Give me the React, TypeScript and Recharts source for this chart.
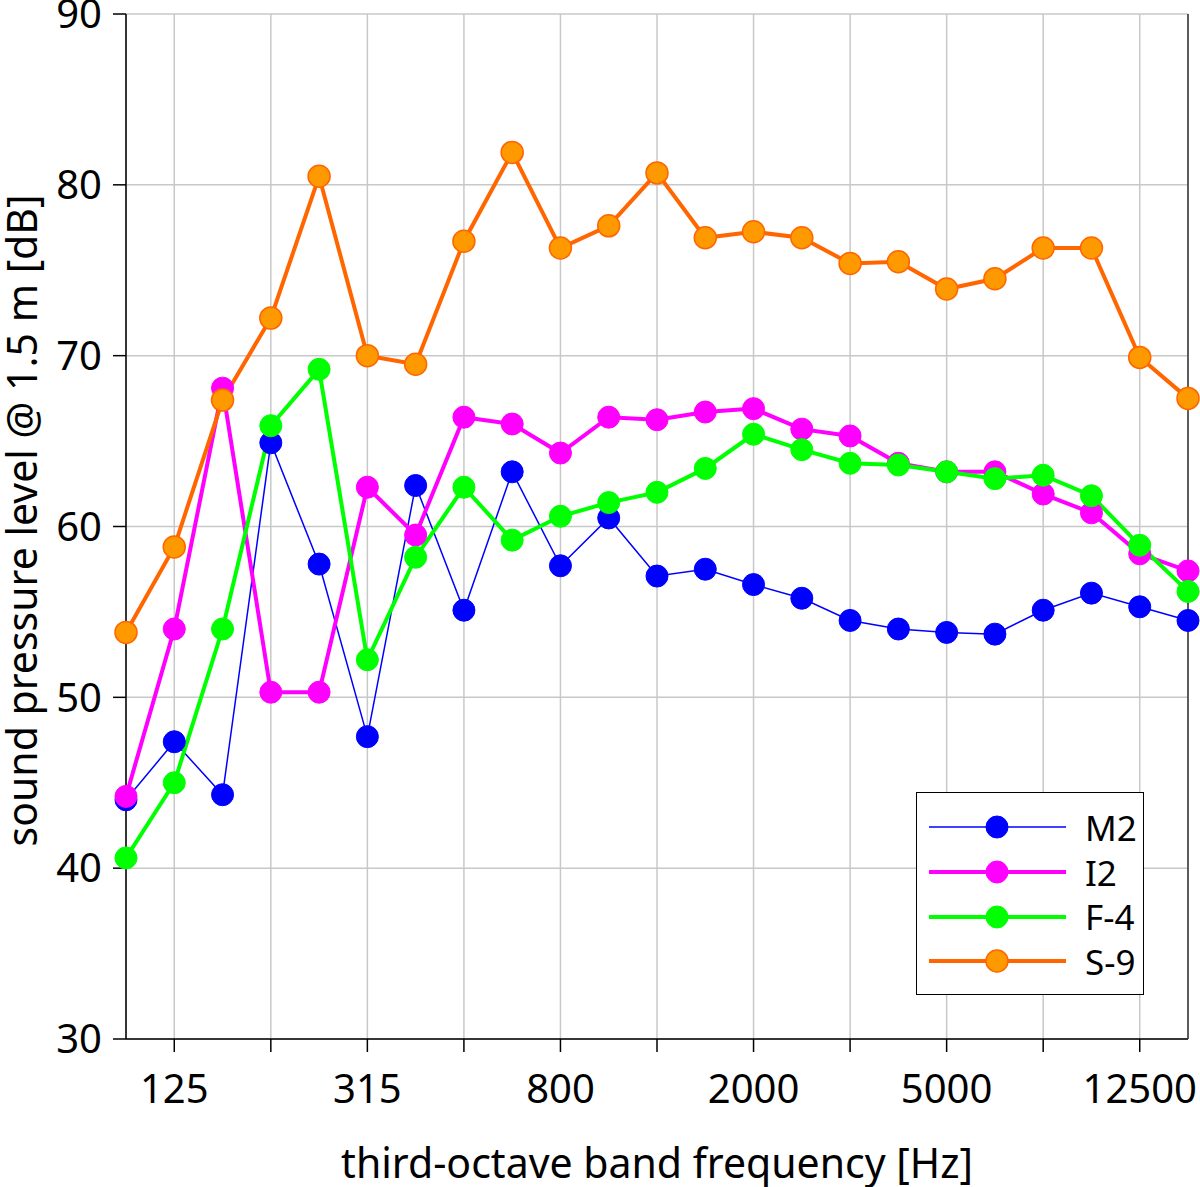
import { CartesianGrid, Label, Legend, Line, LineChart, XAxis, YAxis } from "recharts";

// third-octave bands, Hz
const bands = [
  "100", "125", "160", "200", "250", "315", "400", "500", "630", "800", "1000", "1250",
  "1600", "2000", "2500", "3150", "4000", "5000", "6300", "8000", "10000", "12500", "16000",
];

// sound pressure level @ 1.5 m, dB
const m2 = [44.0, 47.4, 44.3, 64.9, 57.8, 47.7, 62.4, 55.1, 63.2, 57.7, 60.5, 57.1, 57.5, 56.6, 55.8, 54.5, 54.0, 53.8, 53.7, 55.1, 56.1, 55.3, 54.5];
const i2 = [44.2, 54.0, 68.1, 50.3, 50.3, 62.3, 59.5, 66.4, 66.0, 64.3, 66.4, 66.25, 66.7, 66.9, 65.7, 65.3, 63.7, 63.2, 63.2, 61.9, 60.8, 58.4, 57.4];
const f4 = [40.6, 45.0, 54.0, 65.9, 69.2, 52.2, 58.2, 62.3, 59.2, 60.6, 61.4, 62.0, 63.4, 65.4, 64.5, 63.7, 63.6, 63.2, 62.8, 63.0, 61.8, 58.9, 56.2];
const s9 = [53.8, 58.8, 67.4, 72.2, 80.5, 70.0, 69.5, 76.7, 81.9, 76.3, 77.6, 80.7, 76.9, 77.25, 76.9, 75.4, 75.5, 73.9, 74.5, 76.3, 76.3, 69.9, 67.5];

const tickBands = ["125", "200", "315", "500", "800", "1250", "2000", "3150", "5000", "8000", "12500"];
const labelBands = ["125", "315", "800", "2000", "5000", "12500"];
const yTicks = [30, 40, 50, 60, 70, 80, 90];

const data = bands.map((band, i) => ({ band, m2: m2[i], i2: i2[i], f4: f4[i], s9: s9[i] }));

const series = [
  { key: "m2", name: "M2", stroke: "#0000ff", fill: "#0000ff", width: 1.5, dotStroke: 1 },
  { key: "i2", name: "I2", stroke: "#ff00ff", fill: "#ff00ff", width: 4, dotStroke: 1 },
  { key: "f4", name: "F-4", stroke: "#00ff00", fill: "#00ff00", width: 4, dotStroke: 1 },
  { key: "s9", name: "S-9", stroke: "#ff6600", fill: "#ff9900", width: 4, dotStroke: 1.5 },
];

const FONT = "'Noto Sans', 'Open Sans', sans-serif";

function LegendBox() {
  return (
    <div
      style={{
        width: 226,
        border: "1.5px solid #000",
        background: "#fff",
        padding: "12px 0 10px 0",
        fontFamily: FONT,
        fontSize: 35,
        color: "#000",
      }}
    >
      {series.map((s) => (
        <div key={s.key} style={{ display: "flex", alignItems: "center", height: 44.7 }}>
          <svg width={168} height={44} style={{ flex: "none" }}>
            <line x1={12} x2={149} y1={22} y2={22} stroke={s.stroke} strokeWidth={s.width} />
            <circle cx={80} cy={22} r={11} fill={s.fill} stroke={s.stroke} strokeWidth={s.dotStroke} />
          </svg>
          <span style={{ lineHeight: 1 }}>{s.name}</span>
        </div>
      ))}
    </div>
  );
}

export default function App() {
  return (
    <div style={{ position: "absolute", left: 0, top: 0, width: 1200, height: 1187, background: "#fff", fontFamily: FONT }}>
      <LineChart width={1200} height={1187} data={data} margin={{ top: 14, right: 0, bottom: 0, left: 0 }}>
        <CartesianGrid stroke="#c8c8c8" strokeWidth={1.5} />
        <XAxis
          dataKey="band"
          type="category"
          scale="point"
          padding={{ left: 0, right: 0 }}
          ticks={tickBands}
          interval={0}
          tickFormatter={(v) => (labelBands.includes(v) ? v : "")}
          height={148}
          tickSize={13}
          tickMargin={23}
          stroke="#000"
          strokeWidth={1.5}
          tick={{ fill: "#000", fontSize: 40 }}
        >
          <Label value="third-octave band frequency [Hz]" position="insideBottom" offset={9} fill="#000" fontSize={41} />
        </XAxis>
        <YAxis
          domain={[30, 90]}
          ticks={yTicks}
          interval={0}
          width={126}
          tickSize={13}
          tickMargin={11}
          stroke="#000"
          strokeWidth={1.5}
          tick={{ fill: "#000", fontSize: 40 }}
        >
          <Label
            content={({ viewBox }) => {
              const vb = viewBox as { x: number; y: number; width: number; height: number };
              const cy = vb.y + vb.height / 2 - 6;
              return (
                <text
                  x={37}
                  y={cy}
                  transform={`rotate(-90 37 ${cy})`}
                  textAnchor="middle"
                  fontSize={41}
                  fill="#000"
                >
                  sound pressure level @ 1.5 m [dB]
                </text>
              );
            }}
          />
        </YAxis>
        <YAxis yAxisId="r" orientation="right" domain={[30, 90]} width={12} tick={false} tickLine={false} stroke="#333" strokeWidth={1.5} />
        <Legend
          layout="vertical"
          align="center"
          verticalAlign="middle"
          wrapperStyle={{ left: 916, top: 792, width: "auto" }}
          content={() => <LegendBox />}
        />
        {series.map((s) => (
          <Line
            key={s.key}
            type="linear"
            dataKey={s.key}
            name={s.name}
            stroke={s.stroke}
            strokeWidth={s.width}
            dot={{ r: 11, fill: s.fill, stroke: s.stroke, strokeWidth: s.dotStroke }}
            activeDot={false}
            isAnimationActive={false}
          />
        ))}
      </LineChart>
    </div>
  );
}
